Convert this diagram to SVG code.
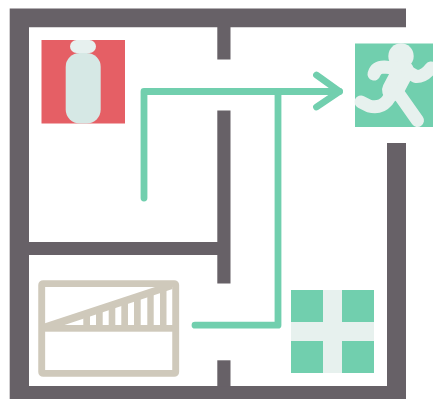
<svg xmlns="http://www.w3.org/2000/svg" width="433" height="399" viewBox="0 0 433 399">
<style>
.wall{fill:#676167}
.route{fill:none;stroke:#71cfae;stroke-width:6.8;stroke-linecap:round;stroke-linejoin:round}
.tile{fill:#71cfae}
.pale{fill:#e7f1ee}
.run{fill:none;stroke:#e7f1ee;stroke-linecap:round;stroke-linejoin:round}
.beige{fill:#cfc9bb}
</style>
<rect width="433" height="399" fill="#fff"/>
<g id="walls">
<path class="wall" d="M9.700 8.500H406V27.200H29V386H387V143H406V399H9.700Z"/>
<rect class="wall" x="217.300" y="27" width="13.200" height="32.500"/>
<rect class="wall" x="217.300" y="110.500" width="13.200" height="173"/>
<rect class="wall" x="29" y="242" width="189" height="13"/>
<rect class="wall" x="217.300" y="360.300" width="13.200" height="26"/>
</g>
<g id="extinguisher">
<rect x="41.500" y="40" width="83.500" height="83.500" fill="#e55f65"/>
<rect x="65.700" y="53" width="35" height="70.500" rx="14" fill="#d6e8e5"/>
<rect x="70" y="40" width="26" height="13" rx="6.500" fill="#e7f0ef"/>
</g>
<g id="exit">
<rect class="tile" x="355" y="43.500" width="78" height="83.500"/>
<circle class="pale" cx="401" cy="56" r="12.700"/>
<path class="run" stroke-width="13" d="M374 74Q376 67 384 67L405 69"/>
<path class="run" stroke-width="22" d="M403 71L393 90"/>
<path class="run" stroke-width="13" d="M408 72L416 76.500Q424 77 431 68"/>
<path class="run" stroke-width="13" d="M361 102L369 106Q380 109 387 101L396 88"/>
<path class="run" stroke-width="13" d="M396 90L417.500 120.500"/>
</g>
<g id="stairs">
<rect x="41.700" y="283.600" width="134" height="89.800" rx="1.500" fill="none" stroke="#cfc9bb" stroke-width="6.900"/>
<rect class="beige" x="41.700" y="325" width="134" height="6.700"/>
<path class="beige" d="M45 323.300L155 287H172.500V289L63 325.500H45Z"/>
<path class="beige" d="M83.300 315H90V326H83.300ZM96 310H102.700V326H96ZM108.700 306H115.300V326H108.700ZM121.300 302H128V326H121.300ZM134 298H140.700V326H134ZM147.300 294H153.700V326H147.300ZM160 289H166.500V326H160Z"/>
</g>
<g id="first-aid">
<rect class="tile" x="291" y="290" width="83" height="83"/>
<rect class="pale" x="323" y="290" width="19" height="83"/>
<rect class="pale" x="291" y="322" width="83" height="19"/>
</g>
<g id="connectors">
<path class="route" d="M144 198V91.500H339.500"/>
<path class="route" d="M316.500 75L339.500 91.500L316.500 107"/>
<path class="route" d="M195 325.200H278V91.500"/>
</g>
</svg>
